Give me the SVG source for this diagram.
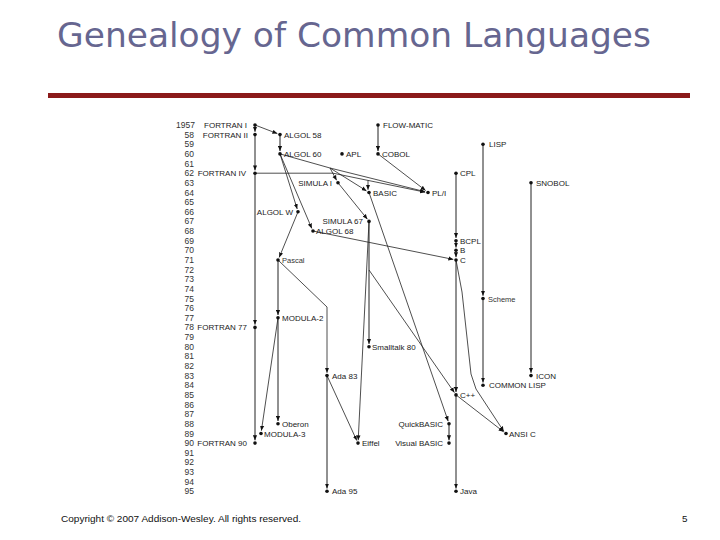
<svg xmlns="http://www.w3.org/2000/svg" width="720" height="540" viewBox="0 0 720 540">
<defs>
<style>
text{font-family:"Liberation Sans",Arial,sans-serif;fill:#1a1a1a}
.t{font-family:"DejaVu Sans",Verdana,sans-serif;font-size:33px;fill:#666690}
.y{font-size:8.5px;fill:#333;text-anchor:end}
.n{font-size:8px}
.e{text-anchor:end}
.m{font-size:7.5px;fill:#333}
.f{font-size:9.8px;fill:#111}
circle{fill:#111}
#conn path{fill:none;stroke:#222;stroke-width:0.8}
#conn path.v{stroke-width:1}
</style>
<marker id="a" viewBox="0 0 6 6" refX="6" refY="3" markerWidth="5" markerHeight="5" orient="auto" markerUnits="userSpaceOnUse"><path d="M0,0.5L6,3L0,5.5z" fill="#111"/></marker>
</defs>
<rect width="720" height="540" fill="#fff"/>
<text class="t" x="57" y="47" textLength="594" lengthAdjust="spacingAndGlyphs">Genealogy of Common Languages</text>
<rect x="48" y="93" width="642" height="5" fill="#8b1a1a"/>
<g id="years">
<text class="y" x="195" y="128">1957</text>
<text class="y" x="194" y="137.6">58</text>
<text class="y" x="194" y="147.3">59</text>
<text class="y" x="194" y="156.9">60</text>
<text class="y" x="194" y="166.6">61</text>
<text class="y" x="194" y="176.2">62</text>
<text class="y" x="194" y="185.8">63</text>
<text class="y" x="194" y="195.5">64</text>
<text class="y" x="194" y="205.1">65</text>
<text class="y" x="194" y="214.8">66</text>
<text class="y" x="194" y="224.4">67</text>
<text class="y" x="194" y="234">68</text>
<text class="y" x="194" y="243.7">69</text>
<text class="y" x="194" y="253.3">70</text>
<text class="y" x="194" y="263">71</text>
<text class="y" x="194" y="272.6">72</text>
<text class="y" x="194" y="282.2">73</text>
<text class="y" x="194" y="291.9">74</text>
<text class="y" x="194" y="301.5">75</text>
<text class="y" x="194" y="311.2">76</text>
<text class="y" x="194" y="320.8">77</text>
<text class="y" x="194" y="330.4">78</text>
<text class="y" x="194" y="340.1">79</text>
<text class="y" x="194" y="349.7">80</text>
<text class="y" x="194" y="359.4">81</text>
<text class="y" x="194" y="369">82</text>
<text class="y" x="194" y="378.6">83</text>
<text class="y" x="194" y="388.3">84</text>
<text class="y" x="194" y="397.9">85</text>
<text class="y" x="194" y="407.6">86</text>
<text class="y" x="194" y="417.2">87</text>
<text class="y" x="194" y="426.8">88</text>
<text class="y" x="194" y="436.5">89</text>
<text class="y" x="194" y="446.1">90</text>
<text class="y" x="194" y="455.8">91</text>
<text class="y" x="194" y="465.4">92</text>
<text class="y" x="194" y="475">93</text>
<text class="y" x="194" y="484.7">94</text>
<text class="y" x="194" y="494.3">95</text>
</g>
<g id="conn">
<path class="v" d="M255,125V131.8" marker-end="url(#a)"/>
<path class="v" d="M255,134.6V170.4" marker-end="url(#a)"/>
<path class="v" d="M255,173.2V324.6" marker-end="url(#a)"/>
<path class="v" d="M255,327.4V440.3" marker-end="url(#a)"/>
<path d="M255,125L277.4,133.6" marker-end="url(#a)"/>
<path class="v" d="M280,134.6V151.1" marker-end="url(#a)"/>
<path class="v" d="M378,125V151.1" marker-end="url(#a)"/>
<path d="M280,153.9L297.2,209" marker-end="url(#a)"/>
<path d="M280,153.9L311.8,228.4" marker-end="url(#a)"/>
<path d="M280,153.9L330,168L336.6,180.3" marker-end="url(#a)"/>
<path d="M330,168L366.6,190.9" marker-end="url(#a)"/>
<path d="M330,168L425,191.7" marker-end="url(#a)"/>
<path d="M255,173.2H333L425.2,192.2" marker-end="url(#a)"/>
<path d="M368,180.4V189.8" marker-end="url(#a)"/>
<path d="M378,153.9L425.6,190.5" marker-end="url(#a)"/>
<path d="M338,182.8L367.4,219.2" marker-end="url(#a)"/>
<path d="M298,211.8L279.2,257.4" marker-end="url(#a)"/>
<path d="M313,231L453.3,259.4" marker-end="url(#a)"/>
<path class="v" d="M456,173.2V237.9" marker-end="url(#a)"/>
<path class="v" d="M456,240.7V247.5" marker-end="url(#a)"/>
<path class="v" d="M456,250.3V257.2" marker-end="url(#a)"/>
<path class="v" d="M456,260V392.1" marker-end="url(#a)"/>
<path class="v" d="M456,394.9V488.5" marker-end="url(#a)"/>
<path d="M456,260L462,292L471,374L476,389L503.8,431.4" marker-end="url(#a)"/>
<path d="M456,394.9L503.6,431.8" marker-end="url(#a)"/>
<path class="v" d="M369,221.4V343.9" marker-end="url(#a)"/>
<path d="M369,221.4L358.2,440.3" marker-end="url(#a)"/>
<path d="M369,270L454.4,392.6" marker-end="url(#a)"/>
<path d="M369,192.5L448.2,421.2" marker-end="url(#a)"/>
<path class="v" d="M449,423.8V440.3" marker-end="url(#a)"/>
<path class="v" d="M278,260V315" marker-end="url(#a)"/>
<path d="M278,260L327,307V372.8" marker-end="url(#a)"/>
<path class="v" d="M278,317.8V421" marker-end="url(#a)"/>
<path d="M278,317.8L261.4,430.7" marker-end="url(#a)"/>
<path class="v" d="M327,375.6V488.5" marker-end="url(#a)"/>
<path d="M327,375.6L356.8,440.6" marker-end="url(#a)"/>
<path class="v" d="M483,144.3V295.7" marker-end="url(#a)"/>
<path class="v" d="M483,298.5V382.5" marker-end="url(#a)"/>
<path class="v" d="M531,182.8V372.8" marker-end="url(#a)"/>
</g>
<g id="n-fortran-i"><circle cx="255" cy="125" r="1.8"/><text class="n e" x="247" y="128">FORTRAN I</text></g>
<g id="n-fortran-ii"><circle cx="255" cy="134.6" r="1.8"/><text class="n e" x="248" y="137.6">FORTRAN II</text></g>
<g id="n-algol-58"><circle cx="280" cy="134.6" r="1.8"/><text class="n" x="284" y="137.6">ALGOL 58</text></g>
<g id="n-flow-matic"><circle cx="378" cy="125" r="1.8"/><text class="n" x="383" y="128">FLOW-MATIC</text></g>
<g id="n-algol-60"><circle cx="280" cy="153.9" r="1.8"/><text class="n" x="284" y="156.9">ALGOL 60</text></g>
<g id="n-apl"><circle cx="342" cy="153.9" r="1.8"/><text class="n" x="346" y="156.9">APL</text></g>
<g id="n-cobol"><circle cx="378" cy="153.9" r="1.8"/><text class="n" x="382" y="156.9">COBOL</text></g>
<g id="n-lisp"><circle cx="483" cy="144.3" r="1.8"/><text class="n" x="489" y="147.3">LISP</text></g>
<g id="n-fortran-iv"><circle cx="255" cy="173.2" r="1.8"/><text class="n e" x="246" y="176.2">FORTRAN IV</text></g>
<g id="n-cpl"><circle cx="456" cy="173.2" r="1.8"/><text class="n" x="460" y="176.2">CPL</text></g>
<g id="n-simula-i"><circle cx="338" cy="182.8" r="1.8"/><text class="n e" x="332" y="185.8">SIMULA I</text></g>
<g id="n-snobol"><circle cx="531" cy="182.8" r="1.8"/><text class="n" x="536" y="185.8">SNOBOL</text></g>
<g id="n-basic"><circle cx="369" cy="192.5" r="1.8"/><text class="n" x="373" y="195.5">BASIC</text></g>
<g id="n-pl1"><circle cx="428" cy="192.5" r="1.8"/><text class="n" x="432" y="195.5">PL/I</text></g>
<g id="n-algol-w"><circle cx="298" cy="211.8" r="1.8"/><text class="n e" x="293" y="214.8">ALGOL W</text></g>
<g id="n-simula-67"><circle cx="369" cy="221.4" r="1.8"/><text class="n e" x="363" y="224.4">SIMULA 67</text></g>
<g id="n-algol-68"><circle cx="313" cy="231" r="1.8"/><text class="n" x="316" y="234">ALGOL 68</text></g>
<g id="n-bcpl"><circle cx="456" cy="240.7" r="1.8"/><text class="n" x="460" y="243.7">BCPL</text></g>
<g id="n-b"><circle cx="456" cy="250.3" r="1.8"/><text class="n" x="460" y="253.3">B</text></g>
<g id="n-c"><circle cx="456" cy="260" r="1.8"/><text class="n" x="460" y="263">C</text></g>
<g id="n-pascal"><circle cx="278" cy="260" r="1.8"/><text class="n m" x="282" y="263">Pascal</text></g>
<g id="n-scheme"><circle cx="483" cy="298.5" r="1.8"/><text class="n m" x="488" y="301.5">Scheme</text></g>
<g id="n-modula-2"><circle cx="278" cy="317.8" r="1.8"/><text class="n" x="282" y="320.8">MODULA-2</text></g>
<g id="n-fortran-77"><circle cx="255" cy="327.4" r="1.8"/><text class="n e" x="247" y="330.4">FORTRAN 77</text></g>
<g id="n-smalltalk-80"><circle cx="369" cy="346.7" r="1.8"/><text class="n" x="372" y="349.7">Smalltalk 80</text></g>
<g id="n-ada-83"><circle cx="327" cy="375.6" r="1.8"/><text class="n" x="332" y="378.6">Ada 83</text></g>
<g id="n-icon"><circle cx="531" cy="375.6" r="1.8"/><text class="n" x="536" y="378.6">ICON</text></g>
<g id="n-common-lisp"><circle cx="483" cy="385.3" r="1.8"/><text class="n" x="489" y="388.3">COMMON LISP</text></g>
<g id="n-cpp"><circle cx="456" cy="394.9" r="1.8"/><text class="n" x="460" y="397.9">C++</text></g>
<g id="n-oberon"><circle cx="278" cy="423.8" r="1.8"/><text class="n" x="282" y="426.8">Oberon</text></g>
<g id="n-quickbasic"><circle cx="449" cy="423.8" r="1.8"/><text class="n e" x="443" y="426.8">QuickBASIC</text></g>
<g id="n-modula-3"><circle cx="261" cy="433.5" r="1.8"/><text class="n" x="264" y="436.5">MODULA-3</text></g>
<g id="n-ansi-c"><circle cx="506" cy="433.5" r="1.8"/><text class="n" x="509" y="436.5">ANSI C</text></g>
<g id="n-fortran-90"><circle cx="255" cy="443.1" r="1.8"/><text class="n e" x="247" y="446.1">FORTRAN 90</text></g>
<g id="n-eiffel"><circle cx="358" cy="443.1" r="1.8"/><text class="n" x="362" y="446.1">Eiffel</text></g>
<g id="n-visual-basic"><circle cx="449" cy="443.1" r="1.8"/><text class="n e" x="443" y="446.1">Visual BASIC</text></g>
<g id="n-ada-95"><circle cx="327" cy="491.3" r="1.8"/><text class="n" x="332" y="494.3">Ada 95</text></g>
<g id="n-java"><circle cx="456" cy="491.3" r="1.8"/><text class="n" x="460" y="494.3">Java</text></g>
<text class="f" x="61" y="522" textLength="240" lengthAdjust="spacingAndGlyphs">Copyright © 2007 Addison-Wesley. All rights reserved.</text>
<text class="f" x="682" y="522">5</text>
</svg>
